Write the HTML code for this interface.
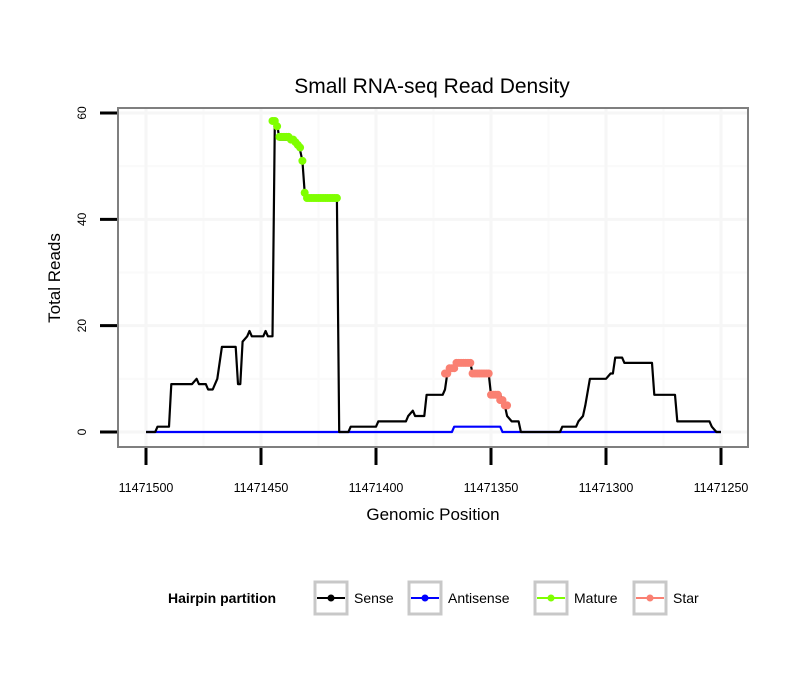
<!DOCTYPE html>
<html><head><meta charset="utf-8"><style>
body{margin:0;background:#fff;font-family:"Liberation Sans",sans-serif}
svg text{font-family:"Liberation Sans",sans-serif}
</style></head><body>
<svg id="chart" width="810" height="690" xmlns="http://www.w3.org/2000/svg"></svg>
<script>
const BASE = 11471500;
const senseOffsets = [0,4,5,10,11,20,22,23,26,27,29,31,33,39,40,41,42,44,45,46,51,52,53,55,56,57,58,63,65,67,68,69,70,83,84,88,89,100,101,113,114,116,117,121,122,129,130,131,133,137,141,142,149,150,154,156,157,159,162,163,180,181,187,188,190,191,193,200,202,203,204,207,208,220,221,230,231,245,246,248,250];
const senseValues = [0,0,1,1,9,9,10,9,9,8,8,10,16,16,9,9,17,18,19,18,18,19,18,18,58,58,55,55,55,53,51,45,44,44,0,0,1,1,2,2,3,4,3,3,7,7,8,11,12,13,13,11,11,7,7,5,3,2,2,0,0,1,1,2,3,5,10,10,11,11,14,14,13,13,7,7,2,2,1,0,0];
const antiOffsets = [0,133,134,154,155,250];
const antiValues = [0,0,1,1,0,0];
const matureOffsets = [55,56,57,58,59,60,61,62,63,64,65,66,67,68,69,70,71,72,73,74,75,76,77,78,79,80,81,82,83];
const matureValues = [58.5,58.5,57.5,55.5,55.5,55.5,55.5,55.5,55,55,54.5,54,53.5,51,45,44,44,44,44,44,44,44,44,44,44,44,44,44,44];
const starOffsets = [130,131,132,133,134,135,136,137,138,139,140,141,142,143,144,145,146,147,148,149,150,151,152,153,154,155,156,157];
const starValues = [11,11,12,12,12,13,13,13,13,13,13,13,11,11,11,11,11,11,11,11,7,7,7,7,6,6,5,5];
const xTicks = [11471500,11471450,11471400,11471350,11471300,11471250];
const xMinor = [11471475,11471425,11471375,11471325,11471275];
const yTicks = [0,20,40,60];
const yMinor = [10,30,50];

const svg = document.getElementById('chart');
const NS = 'http://www.w3.org/2000/svg';
const L=118,R=748,T=108,B=447;
const xs = p => 146 + (BASE - p) * 2.3;
const ys = v => 432 - v * 5.317;
function mk(tag, attrs, parent){const e=document.createElementNS(NS,tag);for(const k in attrs)e.setAttribute(k,attrs[k]);(parent||svg).appendChild(e);return e;}

mk('text',{x:432,y:93,'font-size':21,'text-anchor':'middle',fill:'#000'}).textContent='Small RNA-seq Read Density';
const panel = mk('rect',{x:L,y:T,width:R-L,height:B-T,fill:'#fff'});


yMinor.forEach(v=>{mk('line',{x1:L,x2:R,y1:ys(v),y2:ys(v),stroke:'#fafafa','stroke-width':2});});
xMinor.forEach(p=>{mk('line',{x1:xs(p),x2:xs(p),y1:T,y2:B,stroke:'#fafafa','stroke-width':2});});
yTicks.forEach(v=>{
  const g=mk('line',{x1:L,x2:R,y1:ys(v),y2:ys(v),stroke:'#f6f6f6','stroke-width':3});
  
  
  mk('line',{x1:100,x2:L,y1:ys(v),y2:ys(v),stroke:'#000','stroke-width':3});
  const t=mk('text',{x:0,y:0,'font-size':12,'text-anchor':'middle',transform:`translate(86,${ys(v)}) rotate(-90)`});
  t.textContent=v;
  
  
});
xTicks.forEach(p=>{
  mk('line',{x1:xs(p),x2:xs(p),y1:T,y2:B,stroke:'#f6f6f6','stroke-width':3});
  mk('line',{x1:xs(p),x2:xs(p),y1:B,y2:465,stroke:'#000','stroke-width':3});
  const t=mk('text',{x:xs(p),y:492,'font-size':12.5,'text-anchor':'middle'});
  t.textContent=p;
  
  
});
function line(offs, vals, color, name){
  const d=offs.map((o,i)=>(i?'L':'M')+xs(BASE-o).toFixed(1)+','+ys(vals[i]).toFixed(1)).join(' ');
  const p=mk('path',{d:d,fill:'none',stroke:color,'stroke-width':2.2,'stroke-linejoin':'round'});
  
  
}
function dots(offs, vals, color, name){
  offs.forEach((o,i)=>{
    const c=mk('circle',{cx:xs(BASE-o),cy:ys(vals[i]),r:4,fill:color});
    
    
  });
}
line(antiOffsets, antiValues, '#0000ff', 'antisense-line');
line(senseOffsets, senseValues, '#000', 'sense-line');
dots(matureOffsets, matureValues, '#7fff00', 'mature-point');
dots(starOffsets, starValues, '#fa8072', 'star-point');
mk('rect',{x:L,y:T,width:R-L,height:B-T,fill:'none',stroke:'#7f7f7f','stroke-width':2});
const yt=mk('text',{x:0,y:0,'font-size':17,'text-anchor':'middle',transform:'translate(60,278) rotate(-90)'});
yt.textContent='Total Reads';


const xt=mk('text',{x:433,y:520,'font-size':17,'text-anchor':'middle'});
xt.textContent='Genomic Position';


const lt=mk('text',{x:168,y:603,'font-size':14,'font-weight':'bold'});
lt.textContent='Hairpin partition';


const leg=[['Sense','#000',314],['Antisense','#0000ff',408],['Mature','#7fff00',534],['Star','#fa8072',633]];
leg.forEach(([n,c,x])=>{
  const g=mk('g',{});
  
  
  mk('rect',{x:x+1,y:582,width:32,height:32,fill:'#fff',stroke:'#c8c8c8','stroke-width':3},g);
  mk('line',{x1:x+3,x2:x+31,y1:598,y2:598,stroke:c,'stroke-width':2},g);
  mk('circle',{cx:x+17,cy:598,r:3.5,fill:c},g);
  const t=mk('text',{x:x+40,y:603,'font-size':14},g);t.textContent=n;
});
</script>
</body></html>
